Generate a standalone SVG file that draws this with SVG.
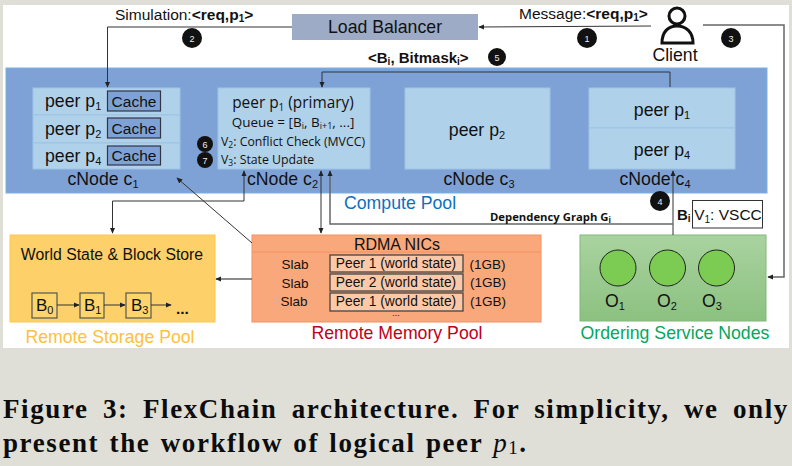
<svg xmlns="http://www.w3.org/2000/svg" width="792" height="466" viewBox="0 0 792 466">
<style>
text{font-family:"Liberation Sans",Arial,sans-serif;fill:#111}
.m{text-anchor:middle}
.t15{font-size:15.5px}.t17{font-size:17.7px}.t14{font-size:13.8px}
.q{font-size:13.5px}.v{font-size:12.3px}.p{font-size:15.4px}
.os{font-family:"Open Sans","Noto Sans",sans-serif}
.b{font-weight:bold}
.cell{fill:#b0d1ea;stroke:#9cc3e6;stroke-width:1}
.cache{fill:#7fa2d6;stroke:#334;stroke-width:1.2}
.ln{fill:none;stroke:#333;stroke-width:1}
.lg{fill:none;stroke:#666;stroke-width:1.5}
.num circle{fill:#111}
.num text{fill:#eee;font-size:9px;text-anchor:middle}
.slab{fill:#fbc9a8;stroke:#444;stroke-width:1.3}
.blk{fill:#fdd56c;stroke:#555;stroke-width:1.2}
.ord{fill:#7ccb52;stroke:#222;stroke-width:1}
.cap{font-family:"Liberation Serif","Times New Roman",serif;font-weight:bold;font-size:27px;letter-spacing:1.6px;fill:#0c0c0c}
</style>
<defs>
<marker id="a" viewBox="0 0 8 8" refX="7" refY="4" markerWidth="6" markerHeight="6" markerUnits="userSpaceOnUse" orient="auto-start-reverse"><path d="M0 0.5L8 4L0 7.5z" fill="#222"/></marker>
<linearGradient id="g" x1="0" y1="0" x2="0" y2="1"><stop offset="0" stop-color="#a9d3a0"/><stop offset="1" stop-color="#8cc180"/></linearGradient>
</defs>
<rect width="792" height="466" fill="#dfdfd7"/>
<rect x="3" y="5" width="786" height="343" fill="#fff"/>

<g id="compute-pool">
<rect x="6" y="68" width="761" height="125" fill="#7fa2d6" stroke="#7ab0e0"/>
<text x="344" y="209" class="t17" style="fill:#0a70c0">Compute Pool</text>
</g>
<g id="load-balancer">
<rect x="292" y="14" width="186" height="26" fill="#9dabc6"/>
<text x="385" y="33" class="m t17">Load Balancer</text>
</g>
<g id="client">
<circle cx="677" cy="16" r="8" fill="#fff" stroke="#111" stroke-width="3"/>
<path d="M662 43C662 32 668 26 677 26S693 32 693 43z" fill="#fff" stroke="#111" stroke-width="3"/>
<text x="675" y="61" class="m t17">Client</text>
</g>
<g id="cnode1">
<rect x="33" y="88" width="147" height="27" class="cell"/>
<rect x="33" y="115" width="147" height="28" class="cell"/>
<rect x="33" y="143" width="147" height="26" class="cell"/>
<rect x="107.500" y="91" width="53" height="20" class="cache"/>
<rect x="107.500" y="118" width="53" height="20" class="cache"/>
<rect x="107.500" y="146" width="53" height="19" class="cache"/>
<text x="45" y="107" class="t17">peer p<tspan dy="3" font-size="11">1</tspan></text>
<text x="45" y="135" class="t17">peer p<tspan dy="3" font-size="11">2</tspan></text>
<text x="45" y="162" class="t17">peer p<tspan dy="3" font-size="11">4</tspan></text>
<text x="134" y="107" class="m t15">Cache</text>
<text x="134" y="134" class="m t15">Cache</text>
<text x="134" y="161" class="m t15">Cache</text>
<text x="103" y="185" class="m t17">cNode c<tspan dy="3" font-size="11">1</tspan></text>
</g>
<g id="cnode2">
<rect x="218" y="88" width="152" height="81" class="cell"/>
<text x="293" y="108" class="m p os">peer p<tspan dy="3" font-size="10">1</tspan><tspan dy="-3"> (primary)</tspan></text>
<text x="293" y="127" class="m q os">Queue = [B<tspan dy="2" font-size="9">i</tspan><tspan dy="-2">, B</tspan><tspan dy="2" font-size="9">i+1</tspan><tspan dy="-2">, ...]</tspan></text>
<text x="221" y="146" class="v os">V<tspan dy="2" font-size="8.500">2</tspan><tspan dy="-2">: Conflict Check (MVCC)</tspan></text>
<text x="221" y="164" class="v os">V<tspan dy="2" font-size="8.500">3</tspan><tspan dy="-2">: State Update</tspan></text>
<text x="247" y="185" class="t17">cNode c<tspan dy="3" font-size="11">2</tspan></text>
</g>
<g id="cnode3">
<rect x="405" y="88" width="145" height="81" class="cell"/>
<text x="477" y="136" class="m t17">peer p<tspan dy="3" font-size="11">2</tspan></text>
<text x="479" y="185" class="m t17">cNode c<tspan dy="3" font-size="11">3</tspan></text>
</g>
<g id="cnode4">
<rect x="589" y="88" width="146" height="40" class="cell"/>
<rect x="589" y="128" width="146" height="41" class="cell"/>
<text x="662" y="116" class="m t17">peer p<tspan dy="3" font-size="11">1</tspan></text>
<text x="662" y="156" class="m t17">peer p<tspan dy="3" font-size="11">4</tspan></text>
<text x="655" y="185" class="m t17">cNode c<tspan dy="3" font-size="11">4</tspan></text>
</g>
<g id="storage-pool">
<rect x="10" y="235" width="205" height="87" fill="#fdd06a" stroke="#fcc850"/>
<text x="112" y="260" class="m" font-size="15.800">World State &amp; Block Store</text>
<rect x="32" y="293" width="25" height="25" class="blk"/>
<rect x="80" y="293" width="24" height="25" class="blk"/>
<rect x="126" y="293" width="25" height="25" class="blk"/>
<text x="36" y="311" font-size="17">B<tspan dy="3" font-size="11">0</tspan></text>
<text x="84" y="311" font-size="17">B<tspan dy="3" font-size="11">1</tspan></text>
<text x="131" y="311" font-size="17">B<tspan dy="3" font-size="11">3</tspan></text>
<text x="176" y="314" class="t15 b">...</text>
<text x="110" y="343" class="m t17" style="fill:#fdc040">Remote Storage Pool</text>
</g>
<g id="memory-pool">
<rect x="252" y="235" width="289" height="87" fill="#f9a87c" stroke="#f59060"/>
<path d="M252 252H541" stroke="#f59060" fill="none"/>
<text x="397" y="250" class="m" font-size="16">RDMA NICs</text>
<rect x="330" y="255" width="133" height="17" class="slab"/>
<rect x="330" y="274" width="133" height="17" class="slab"/>
<rect x="330" y="293" width="133" height="18" class="slab"/>
<text x="295" y="269" class="m q">Slab</text>
<text x="295" y="288" class="m q">Slab</text>
<text x="294" y="306" class="m q">Slab</text>
<text x="396" y="268" class="m t14">Peer 1 (world state)</text>
<text x="396" y="287" class="m t14">Peer 2 (world state)</text>
<text x="396" y="306" class="m t14">Peer 1 (world state)</text>
<text x="469.500" y="269" class="q">(1GB)</text>
<text x="470" y="287" class="q">(1GB)</text>
<text x="470" y="306" class="q">(1GB)</text>
<text x="396" y="316" class="m" font-size="9">...</text>
<text x="397" y="339" class="m t17" style="fill:#c00020">Remote Memory Pool</text>
</g>
<g id="ordering">
<rect x="580" y="235" width="186" height="86" fill="url(#g)" stroke="#80b878"/>
<circle cx="618" cy="268" r="18" class="ord"/>
<circle cx="667.500" cy="268" r="18" class="ord"/>
<circle cx="716.500" cy="268" r="18" class="ord"/>
<text x="615" y="307" class="m t17">O<tspan dy="3" font-size="11">1</tspan></text>
<text x="667" y="307" class="m t17">O<tspan dy="3" font-size="11">2</tspan></text>
<text x="712" y="307" class="m t17">O<tspan dy="3" font-size="11">3</tspan></text>
<text x="675" y="339" class="m t17" style="fill:#00a860">Ordering Service Nodes</text>
</g>
<g id="vscc">
<rect x="692.500" y="200.500" width="70" height="27.500" fill="#fff" stroke="#333"/>
<text x="728" y="220" class="m t15">V<tspan dy="3" font-size="10">1</tspan><tspan dy="-3">: VSCC</tspan></text>
</g>

<g id="connectors">
<path d="M292 27H107.500V87" class="ln" marker-end="url(#a)"/>
<path d="M651 26L479 27" class="ln" marker-end="url(#a)"/>
<path d="M703 25H784V277H768" class="lg" marker-end="url(#a)"/>
<path d="M670 87V72H322V87" class="ln" marker-end="url(#a)"/>
<path d="M673 235V171" class="ln" marker-end="url(#a)"/>
<path d="M673 224H330V171" class="lg" marker-end="url(#a)"/>
<path d="M244 171V201H112.500V233" class="ln" marker-end="url(#a)" marker-start="url(#a)"/>
<path d="M321 171V233" class="ln" marker-end="url(#a)" marker-start="url(#a)"/>
<path d="M252 243L177 178" class="ln" marker-end="url(#a)"/>
<path d="M252 279H216" class="lg" marker-end="url(#a)"/>
<path d="M57 305H79" class="ln" marker-end="url(#a)"/>
<path d="M104 305H125" class="ln" marker-end="url(#a)"/>
<path d="M151 305H171" class="ln" marker-end="url(#a)"/>
</g>

<g id="labels">
<text x="115" y="20" class="t15">Simulation:<tspan class="b">&lt;req,p<tspan dy="2" font-size="10">1</tspan><tspan dy="-2">&gt;</tspan></tspan></text>
<text x="519" y="19" class="t15">Message:<tspan class="b">&lt;req,p<tspan dy="2" font-size="10">1</tspan><tspan dy="-2">&gt;</tspan></tspan></text>
<text x="368" y="63" class="b" font-size="15">&lt;B<tspan dy="2" font-size="10">i</tspan><tspan dy="-2">, Bitmask</tspan><tspan dy="2" font-size="10">i</tspan><tspan dy="-2">&gt;</tspan></text>
<text x="490" y="221" class="os b" font-size="11.300">Dependency Graph G<tspan dy="2" font-size="8">i</tspan></text>
<text x="677" y="220" class="b" font-size="15">B<tspan dy="2" font-size="10">i</tspan></text>
</g>
<g id="numbers" class="num">
<circle cx="587" cy="38" r="10"/><text x="587" y="41.500">1</text>
<circle cx="192" cy="38" r="10"/><text x="192" y="41.500">2</text>
<circle cx="731" cy="38" r="10"/><text x="731" y="41.500">3</text>
<circle cx="660" cy="201" r="10"/><text x="660" y="204.500">4</text>
<circle cx="497" cy="57" r="9"/><text x="497" y="60.500">5</text>
<circle cx="205" cy="144" r="8"/><text x="205" y="147.500">6</text>
<circle cx="205" cy="160" r="8"/><text x="205" y="163.500">7</text>
</g>

<g id="caption">
<text x="3" y="418" class="cap" word-spacing="6">Figure 3: FlexChain architecture. For simplicity, we only</text>
<text x="3" y="452" class="cap" word-spacing="2">present the workflow of logical peer <tspan font-style="italic" font-weight="normal">p</tspan><tspan font-weight="normal" font-size="19" dy="2">1</tspan><tspan dy="-2">.</tspan></text>
</g>
</svg>
